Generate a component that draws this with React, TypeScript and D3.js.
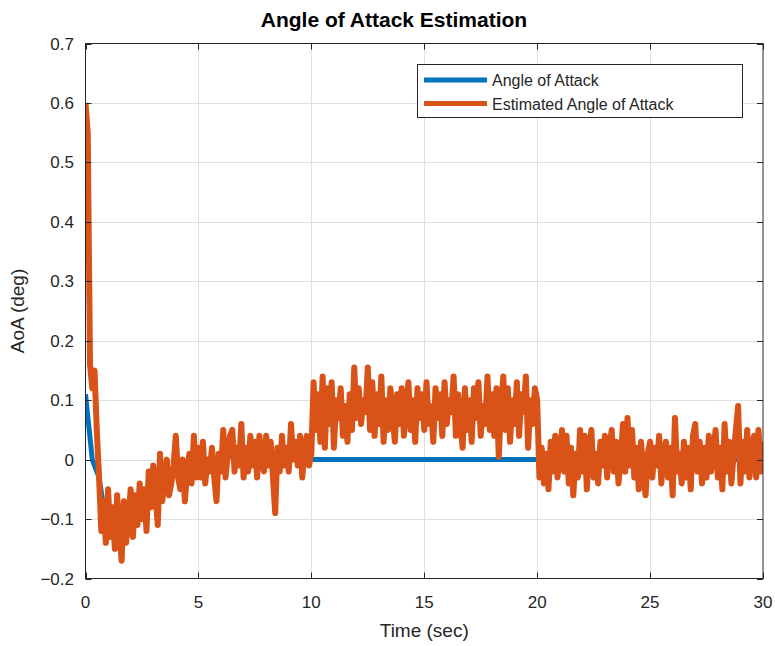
import { useEffect, useRef } from "react";
import * as d3 from "d3";

// time axis step for the estimate (sec)
const DT = 0.1;

// true angle of attack (mostly hidden under the estimate before t = 10)
const trueTime = [0, 0.3, 0.6, 0.8, 1.0, 1.5, 2.0, 2.5, 3, 4, 5, 6, 7, 8, 9, 10, 30];
const trueAoA = [0.11, 0.0, -0.03, -0.08, -0.09, -0.1, -0.09, -0.07, -0.05, -0.02, -0.01, 0.005, 0.005, 0.0, 0.0, 0.0, 0.0];

const estAoA = [
  // 0 - 0.9
  0.6, 0.55, 0.16, 0.12, 0.15, 0.05, -0.03, -0.12, -0.07, -0.14,
  // 1
  -0.05, -0.13, -0.08, -0.15, -0.06, -0.12, -0.17, -0.07, -0.14, -0.1,
  // 2
  -0.05, -0.13, -0.06, -0.11, -0.04, -0.1, -0.05, -0.12, -0.02, -0.08,
  // 3
  -0.01, -0.06, -0.11, 0.01, -0.07, -0.03, 0.0, -0.06, -0.04, -0.01,
  // 4
  0.04, -0.03, -0.05, 0.0, -0.07, -0.02, 0.01, -0.04, 0.04, -0.03,
  // 5
  0.02, -0.03, 0.03, -0.04, 0.0, -0.02, 0.02, -0.03, -0.07, 0.01,
  // 6
  -0.02, 0.05, -0.03, 0.01, 0.04, 0.05, -0.02, 0.02, -0.01, 0.06,
  // 7
  -0.03, 0.02, -0.02, 0.04, -0.01, 0.03, -0.03, 0.04, 0.0, -0.02,
  // 8
  0.04, -0.01, 0.03, -0.03, -0.09, 0.02, -0.02, 0.04, -0.01, 0.02,
  // 9
  -0.02, 0.06, 0.0, 0.03, -0.01, 0.04, -0.03, 0.02, 0.04, -0.01,
  // 10
  0.01, 0.13, 0.05, 0.11, 0.03, 0.14, 0.02, 0.12, 0.06, 0.13,
  // 11
  0.02, 0.1, 0.07, 0.12, 0.04, 0.09, 0.03, 0.11, 0.05, 0.155,
  // 12
  0.07, 0.12, 0.06, 0.1, 0.08, 0.155, 0.05, 0.13, 0.04, 0.11,
  // 13
  0.06, 0.14, 0.03, 0.1, 0.05, 0.12, 0.07, 0.03, 0.11, 0.06,
  // 14
  0.12, 0.04, 0.09, 0.13, 0.05, 0.1, 0.03, 0.12, 0.07, 0.11,
  // 15
  0.05, 0.13, 0.06, 0.09, 0.03, 0.12, 0.07, 0.11, 0.04, 0.13,
  // 16
  0.06, 0.1, 0.08, 0.14, 0.04, 0.11, 0.06, 0.02, 0.12, 0.05,
  // 17
  0.1, 0.03, 0.12, 0.07, 0.13, 0.04, 0.09, 0.06, 0.14, 0.05,
  // 18
  0.11, 0.04, 0.12, 0.005, 0.09, 0.14, 0.05, 0.12, 0.03, 0.1,
  // 19
  0.06, 0.13, 0.04, 0.11, 0.08, 0.14, 0.02, 0.1, 0.06, 0.12,
  // 20
  0.1, -0.03, 0.02, -0.04, 0.01, -0.05, 0.03, -0.02, 0.04, -0.03,
  // 21
  0.01, 0.05, -0.02, 0.04, -0.04, 0.02, -0.06, 0.01, -0.03, 0.05,
  // 22
  -0.02, 0.04, -0.05, 0.02, 0.05, -0.03, 0.01, -0.04, 0.03, -0.01,
  // 23
  0.04, -0.03, 0.02, 0.05, -0.02, 0.03, -0.04, 0.0, 0.06, -0.02,
  // 24
  0.07, -0.01, 0.05, -0.03, 0.02, -0.05, 0.03, -0.02, -0.06, 0.01,
  // 25
  0.03, -0.03, 0.02, -0.01, 0.04, -0.04, 0.01, 0.03, -0.03, 0.02,
  // 26
  -0.06, 0.07, -0.02, 0.01, -0.04, 0.03, -0.03, 0.02, -0.05, 0.04,
  // 27
  0.06, -0.02, 0.03, -0.04, 0.02, -0.03, 0.04, -0.02, 0.01, 0.05,
  // 28
  -0.03, 0.02, -0.05, 0.06, -0.02, 0.03, -0.04, 0.01, 0.05, 0.09,
  // 29
  -0.04, 0.03, -0.02, 0.05, -0.03, 0.01, 0.04, -0.03, 0.05, -0.02,
  // 30
  0.03,
];

const xTicks = [0, 5, 10, 15, 20, 25, 30];
const yTicks = [-0.2, -0.1, 0, 0.1, 0.2, 0.3, 0.4, 0.5, 0.6, 0.7];
const seriesNames = ["Angle of Attack", "Estimated Angle of Attack"];
const colors = ["#0072BD", "#D95319"];

const W = 775;
const H = 646;
const FONT = "'Liberation Sans', Arial, Helvetica, sans-serif";

const App = () => {
  const svgRef = useRef<SVGSVGElement>(null);

  useEffect(() => {
    const svg = d3.select(svgRef.current);
    svg.selectAll("*").remove();

    const left = 85.5;
    const right = 763;
    const top = 43.5;
    const bottom = 578.5;

    const x = d3.scaleLinear().domain([0, 30]).range([left, right]);
    const y = d3.scaleLinear().domain([-0.2, 0.7]).range([bottom, top]);

    svg.append("rect").attr("width", W).attr("height", H).attr("fill", "#fff");

    // grid
    const grid = svg.append("g").attr("stroke", "#dfdfdf").attr("stroke-width", 1);
    xTicks.slice(1, -1).forEach((t) => {
      grid.append("line")
        .attr("x1", Math.round(x(t)) + 0.5).attr("x2", Math.round(x(t)) + 0.5)
        .attr("y1", top).attr("y2", bottom);
    });
    yTicks.slice(1, -1).forEach((t) => {
      grid.append("line")
        .attr("x1", left).attr("x2", right)
        .attr("y1", Math.round(y(t)) + 0.5).attr("y2", Math.round(y(t)) + 0.5);
    });

    // clip
    svg.append("clipPath").attr("id", "plotclip")
      .append("rect")
      .attr("x", left).attr("y", top)
      .attr("width", right - left).attr("height", bottom - top);

    const plot = svg.append("g").attr("clip-path", "url(#plotclip)");

    const trueData = trueTime.map((t, i) => [t, trueAoA[i]] as [number, number]);
    const estData = estAoA.map((v, i) => [i * DT, v] as [number, number]);

    const line = d3.line<[number, number]>()
      .x((d) => x(d[0]))
      .y((d) => y(d[1]));

    plot.append("path")
      .attr("d", line(trueData))
      .attr("fill", "none")
      .attr("stroke", colors[0])
      .attr("stroke-width", 5)
      .attr("stroke-linejoin", "round");

    plot.append("path")
      .attr("d", line(estData))
      .attr("fill", "none")
      .attr("stroke", colors[1])
      .attr("stroke-width", 6)
      .attr("stroke-linejoin", "round");

    // axes box
    const axisColor = "#262626";
    svg.append("rect")
      .attr("x", left).attr("y", top)
      .attr("width", right - left).attr("height", bottom - top)
      .attr("fill", "none").attr("stroke", axisColor).attr("stroke-width", 1);

    const tickLen = 6;
    const ticks = svg.append("g").attr("stroke", axisColor).attr("stroke-width", 1);
    xTicks.forEach((t) => {
      const px = Math.round(x(t)) + 0.5;
      ticks.append("line").attr("x1", px).attr("x2", px).attr("y1", bottom).attr("y2", bottom - tickLen);
      ticks.append("line").attr("x1", px).attr("x2", px).attr("y1", top).attr("y2", top + tickLen);
    });
    yTicks.forEach((t) => {
      const py = Math.round(y(t)) + 0.5;
      ticks.append("line").attr("x1", left).attr("x2", left + tickLen).attr("y1", py).attr("y2", py);
      ticks.append("line").attr("x1", right).attr("x2", right - tickLen).attr("y1", py).attr("y2", py);
    });

    // tick labels
    const fmt = (v: number) => (v === 0 ? "0" : d3.format(".1f")(v));
    svg.append("g")
      .selectAll("text")
      .data(xTicks)
      .join("text")
      .attr("x", (d) => x(d))
      .attr("y", 608)
      .attr("text-anchor", "middle")
      .attr("font-family", FONT)
      .attr("font-size", 17)
      .attr("fill", axisColor)
      .text((d) => d);

    svg.append("g")
      .selectAll("text")
      .data(yTicks)
      .join("text")
      .attr("x", 74)
      .attr("y", (d) => y(d) + 6)
      .attr("text-anchor", "end")
      .attr("font-family", FONT)
      .attr("font-size", 17)
      .attr("fill", axisColor)
      .text((d) => fmt(d));

    // axis labels
    svg.append("text")
      .attr("x", (left + right) / 2)
      .attr("y", 637)
      .attr("text-anchor", "middle")
      .attr("font-family", FONT)
      .attr("font-size", 19)
      .attr("fill", axisColor)
      .text("Time (sec)");

    svg.append("text")
      .attr("transform", `translate(24,${(top + bottom) / 2}) rotate(-90)`)
      .attr("text-anchor", "middle")
      .attr("font-family", FONT)
      .attr("font-size", 19)
      .attr("fill", axisColor)
      .text("AoA (deg)");

    // title
    svg.append("text")
      .attr("x", 394)
      .attr("y", 27)
      .attr("text-anchor", "middle")
      .attr("font-family", FONT)
      .attr("font-size", 21)
      .attr("font-weight", "bold")
      .attr("fill", "#000")
      .text("Angle of Attack Estimation");

    // legend
    const lg = svg.append("g");
    lg.append("rect")
      .attr("x", 417.5).attr("y", 64.5)
      .attr("width", 325).attr("height", 53)
      .attr("fill", "#fff").attr("stroke", axisColor).attr("stroke-width", 1);
    seriesNames.forEach((name, i) => {
      const ly = 80 + i * 23.5;
      lg.append("line")
        .attr("x1", 424).attr("x2", 487)
        .attr("y1", ly).attr("y2", ly)
        .attr("stroke", colors[i]).attr("stroke-width", 5);
      lg.append("text")
        .attr("x", 492).attr("y", ly + 6)
        .attr("font-family", FONT)
        .attr("font-size", 16)
        .attr("fill", axisColor)
        .text(name);
    });
  }, []);

  return (
    <svg
      ref={svgRef}
      width={W}
      height={H}
      style={{ position: "absolute", left: 0, top: 0, display: "block" }}
    />
  );
};

export default App;
